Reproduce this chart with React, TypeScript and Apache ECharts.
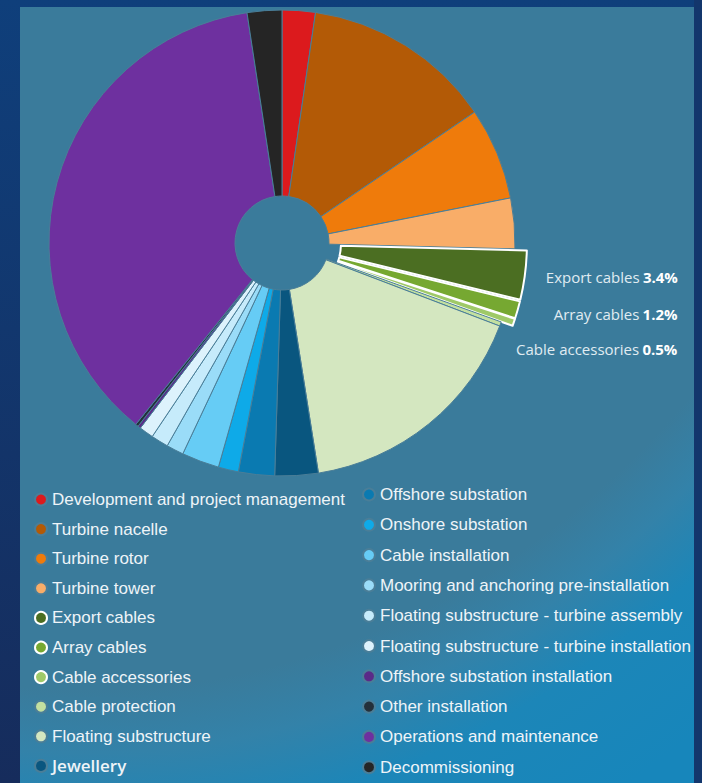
import React, { useEffect, useRef } from "react";
import * as echarts from "echarts";

const names = [
  "Development and project management",
  "Turbine nacelle",
  "Turbine rotor",
  "Turbine tower",
  "Export cables",
  "Array cables",
  "Cable accessories",
  "Cable protection",
  "Floating substructure",
  "Jewellery",
  "Offshore substation",
  "Onshore substation",
  "Cable installation",
  "Mooring and anchoring pre-installation",
  "Floating substructure - turbine assembly",
  "Floating substructure - turbine installation",
  "Offshore substation installation",
  "Other installation",
  "Operations and maintenance",
  "Decommissioning",
];

const values = [2.3, 13.2, 6.4, 3.5, 3.4, 1.2, 0.5, 0.3, 16.7, 3.0, 2.5, 1.4, 2.6, 1.2, 1.2, 1.0, 0.2, 0.2, 36.8, 2.4];

const colors = [
  "#dc1a1d", "#b35a06", "#ef7b0b", "#f9ad68", "#4b6e22", "#76a831", "#9fc968",
  "#c3e0a0", "#d4e7c0", "#09567f", "#0a7ab1", "#0eaae8", "#66ccf5", "#9adcf8",
  "#c6ebfb", "#ddf2fc", "#5a2a88", "#24303a", "#6e309f", "#252525",
];

const explodedNames = ["Export cables", "Array cables", "Cable accessories"];

const leftLegend = names.slice(0, 10);
const rightLegend = names.slice(10);

export default function App() {
  const ref = useRef<HTMLDivElement>(null);

  useEffect(() => {
    document.body.style.margin = "0";
    const chart = echarts.init(ref.current!, null, { renderer: "svg" });

    // extra top padding pushes a label's text down so the three labels sit on even rows
    const labelPadTop: Record<string, number> = { "Cable accessories": 44 };

    const data = names.map((n, i) => {
      const ex = explodedNames.includes(n);
      const pad = labelPadTop[n] || 0;
      return {
        name: n,
        value: values[i],
        selected: ex,
        itemStyle: ex
          ? { color: colors[i], borderColor: "#ffffff", borderWidth: 2 }
          : { color: colors[i], borderColor: "#4a7e98", borderWidth: 1 },
        label: { show: ex, padding: [pad, 0, 0, 0] },
      };
    });

    const legendText = {
      color: "#eef4f8",
      fontSize: 17,
      fontFamily: "'Liberation Sans', Arial, sans-serif",
      rich: {
        j: {
          color: "#eef4f8",
          fontSize: 17,
          fontFamily: "'Open Sans', sans-serif",
          fontWeight: 600,
        },
      },
    };
    const legendFormatter = (n: string) => (n === "Jewellery" ? `{j|${n}}` : n);

    chart.setOption({
      animation: false,
      backgroundColor: new echarts.graphic.LinearGradient(0, 0, 0, 1, [
        { offset: 0, color: "#0f3f7b" },
        { offset: 1, color: "#162c5c" },
      ]),
      graphic: [
        {
          type: "rect",
          z: -10,
          shape: { x: 20, y: 7, width: 674, height: 790 },
          style: {
            fill: new echarts.graphic.RadialGradient(0.1, -0.4, 1.6, [
              { offset: 0, color: "#3a7b9b" },
              { offset: 0.79, color: "#3a7b9b" },
              { offset: 0.84, color: "#3382a9" },
              { offset: 0.9, color: "#1c86b8" },
              { offset: 1, color: "#1786bb" },
            ]),
          },
        },
        {
          type: "rect",
          z: 100,
          shape: { x: 694, y: 0, width: 8, height: 783 },
          style: { fill: "#13366c" },
        },
      ],
      legend: [
        {
          data: leftLegend,
          orient: "vertical",
          left: 34,
          top: 491,
          padding: 0,
          itemGap: 12.6,
          itemWidth: 12,
          itemHeight: 12,
          icon: "circle",
          selectedMode: false,
          textStyle: legendText,
          formatter: legendFormatter,
        },
        {
          data: rightLegend,
          orient: "vertical",
          left: 362,
          top: 486,
          padding: 0,
          itemGap: 13.3,
          itemWidth: 12,
          itemHeight: 12,
          icon: "circle",
          selectedMode: false,
          textStyle: legendText,
          formatter: legendFormatter,
        },
      ],
      series: [
        {
          type: "pie",
          center: [282, 243],
          radius: [47, 233],
          startAngle: 90,
          clockwise: true,
          selectedMode: "multiple",
          selectedOffset: 12,
          avoidLabelOverlap: false,
          emphasis: { disabled: true },
          select: { itemStyle: { borderColor: "#ffffff", borderWidth: 2 } },
          label: {
            show: false,
            position: "outside",
            alignTo: "edge",
            edgeDistance: 36,
            overflow: "none",
            formatter: "{n|{b}} {v|{c}%}",
            rich: {
              n: { color: "#e0ecf2", fontSize: 15, fontFamily: "'Open Sans', sans-serif" },
              v: { color: "#ffffff", fontSize: 15, fontWeight: "bold", fontFamily: "'Open Sans', sans-serif" },
            },
          },
          labelLine: { show: false },
          data,
        },
      ],
    });

    return () => chart.dispose();
  }, []);

  return <div ref={ref} style={{ width: 702, height: 783 }} />;
}
